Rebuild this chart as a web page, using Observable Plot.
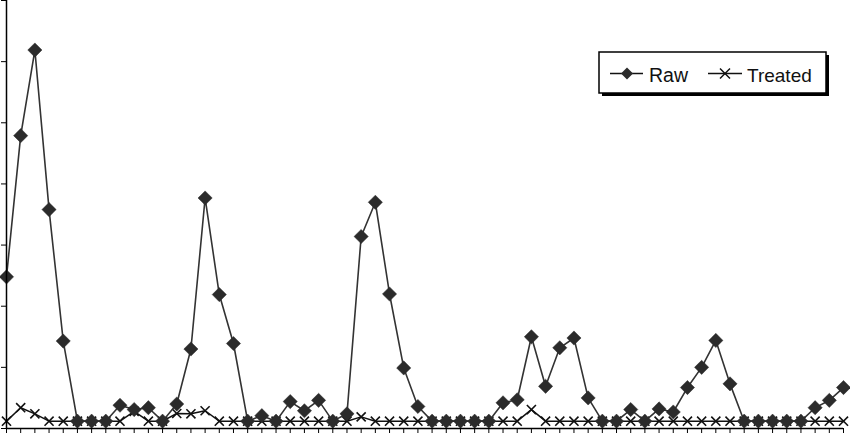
<!DOCTYPE html>
<html>
<head>
<meta charset="utf-8">
<script src="https://cdn.jsdelivr.net/npm/d3@7"></script>
<script src="https://cdn.jsdelivr.net/npm/@observablehq/plot@0.6"></script>
<style>
  html, body { margin: 0; padding: 0; background: #fff; }
  #wrap { position: relative; width: 850px; height: 433px; font-family: "Liberation Sans", Arial, Helvetica, sans-serif; }
  #legend { position: absolute; left: 0; top: 0; pointer-events: none; }
</style>
</head>
<body>
<div id="wrap"></div>
<script>
// Sample index (category positions 0..59)
const samples = d3.range(60);
// Series values (axis 0–70, no labels)
const rawValues = [
  24.8, 47.9, 61.9, 35.8, 14.3, 1.2, 1.2, 1.2, 3.8, 3.1,
  3.4, 1.2, 4.0, 13.0, 37.7, 21.9, 13.9, 1.2, 2.1, 1.2,
  4.4, 2.9, 4.6, 1.2, 2.4, 31.4, 37.0, 22.0, 9.9, 3.6,
  1.2, 1.2, 1.2, 1.2, 1.2, 4.2, 4.7, 15.0, 6.9, 13.2,
  14.8, 5.0, 1.2, 1.2, 3.1, 1.2, 3.2, 2.7, 6.7, 10.0,
  14.4, 7.3, 1.2, 1.2, 1.2, 1.2, 1.2, 3.4, 4.6, 6.7
];
const treatedValues = [
  1.2, 3.4, 2.4, 1.2, 1.2, 1.2, 1.2, 1.2, 1.2, 2.8,
  1.2, 1.2, 2.45, 2.4, 2.9, 1.2, 1.2, 1.2, 1.2, 1.2,
  1.2, 1.2, 1.2, 1.2, 1.2, 1.9, 1.2, 1.2, 1.2, 1.2,
  1.2, 1.2, 1.2, 1.2, 1.2, 1.2, 1.2, 3.1, 1.2, 1.2,
  1.2, 1.2, 1.2, 1.2, 1.2, 1.2, 1.2, 1.2, 1.2, 1.2,
  1.2, 1.2, 1.2, 1.2, 1.2, 1.2, 1.2, 1.2, 1.2, 1.2
];
const yTicks = [0, 10, 20, 30, 40, 50, 60, 70];
const seriesNames = ["Raw", "Treated"];

const raw = samples.map((i) => ({i, v: rawValues[i]}));
const treated = samples.map((i) => ({i, v: treatedValues[i]}));

const chart = Plot.plot({
  width: 850,
  height: 433,
  marginLeft: 6,
  marginRight: 7,
  marginTop: 0,
  marginBottom: 5,
  style: {background: "#fff", overflow: "visible"},
  x: {domain: [0, 59]},
  y: {domain: [0, 70]},
  marks: [
    Plot.axisX({ticks: samples, tickSize: 5, tickFormat: () => "", stroke: "#000", strokeWidth: 1, label: null}),
    Plot.axisY({ticks: yTicks, tickSize: 5, tickFormat: () => "", stroke: "#000", strokeWidth: 1, label: null}),
    Plot.lineY(treated, {x: "i", y: "v", stroke: "#111", strokeWidth: 1.5}),
    Plot.dot(treated, {x: "i", y: "v", symbol: "times", r: 4.2, stroke: "#111", strokeWidth: 1.6}),
    Plot.lineY(raw, {x: "i", y: "v", stroke: "#333", strokeWidth: 1.6}),
    Plot.dot(raw, {x: "i", y: "v", symbol: "diamond2", r: 6.4, fill: "#2b2b2b", stroke: "#2b2b2b", strokeWidth: 0.5}),
    Plot.ruleY([0], {stroke: "#000", strokeWidth: 1.5}),
    Plot.ruleX([0], {stroke: "#000", strokeWidth: 1.5})
  ]
});

const wrap = document.getElementById("wrap");
wrap.appendChild(chart);

// Legend overlay
const ns = "http://www.w3.org/2000/svg";
const leg = document.createElementNS(ns, "svg");
leg.setAttribute("id", "legend");
leg.setAttribute("width", 850);
leg.setAttribute("height", 433);
leg.innerHTML = `
  <rect x="602" y="55" width="227" height="41" fill="#000"/>
  <rect x="599" y="52" width="227" height="41" fill="#fff" stroke="#000" stroke-width="1.5"/>
  <line x1="610" x2="643" y1="73.5" y2="73.5" stroke="#111" stroke-width="1.6"/>
  <path d="M627,67.5L633,73.5L627,79.5L621,73.5Z" fill="#2b2b2b"/>
  <text x="649" y="82" font-size="19.5" fill="#111" font-family="Liberation Sans, Arial, sans-serif">${seriesNames[0]}</text>
  <line x1="708" x2="742" y1="73.5" y2="73.5" stroke="#111" stroke-width="1.5"/>
  <path d="M720,68.5L730,78.5M720,78.5L730,68.5" stroke="#111" stroke-width="1.5"/>
  <text x="747" y="82" font-size="19" fill="#111" font-family="Liberation Sans, Arial, sans-serif">${seriesNames[1]}</text>
`;
wrap.appendChild(leg);
</script>
</body>
</html>
